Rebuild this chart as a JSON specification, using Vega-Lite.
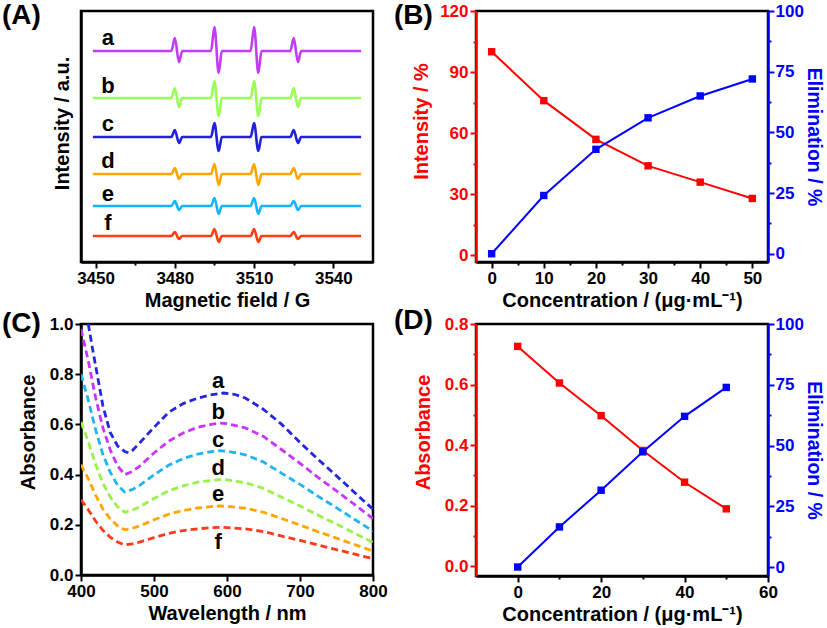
{
  "$schema": "https://vega.github.io/schema/vega-lite/v6.json",
  "background": "white",
  "padding": {"left": 0, "top": 0, "right": 0, "bottom": 0},
  "columns": 2,
  "spacing": {"row": 62, "column": 103},
  "bounds": "flush",
  "resolve": {"scale": {"color": "independent"}},
  "datasets": {
    "epr": [
      {"s":"a","x":3449,"y":211},{"s":"a","x":3478.7,"y":211},{"s":"a","x":3480,"y":224},{"s":"a","x":3481.6,"y":200},{"s":"a","x":3482.8,"y":211},
      {"s":"a","x":3493.7,"y":211},{"s":"a","x":3495,"y":235},{"s":"a","x":3496.6,"y":189},{"s":"a","x":3497.8,"y":211},
      {"s":"a","x":3508.7,"y":211},{"s":"a","x":3510,"y":235},{"s":"a","x":3511.6,"y":189},{"s":"a","x":3512.8,"y":211},
      {"s":"a","x":3523.7,"y":211},{"s":"a","x":3525,"y":224},{"s":"a","x":3526.6,"y":200},{"s":"a","x":3527.8,"y":211},{"s":"a","x":3550.5,"y":211},
      {"s":"b","x":3449,"y":164},{"s":"b","x":3478.7,"y":164},{"s":"b","x":3480,"y":174},{"s":"b","x":3481.6,"y":155},{"s":"b","x":3482.8,"y":164},
      {"s":"b","x":3493.7,"y":164},{"s":"b","x":3495,"y":181},{"s":"b","x":3496.6,"y":146},{"s":"b","x":3497.8,"y":164},
      {"s":"b","x":3508.7,"y":164},{"s":"b","x":3510,"y":181},{"s":"b","x":3511.6,"y":146},{"s":"b","x":3512.8,"y":164},
      {"s":"b","x":3523.7,"y":164},{"s":"b","x":3525,"y":174},{"s":"b","x":3526.6,"y":155},{"s":"b","x":3527.8,"y":164},{"s":"b","x":3550.5,"y":164},
      {"s":"c","x":3449,"y":125},{"s":"c","x":3478.7,"y":125},{"s":"c","x":3480,"y":132},{"s":"c","x":3481.6,"y":119},{"s":"c","x":3482.8,"y":125},
      {"s":"c","x":3493.7,"y":125},{"s":"c","x":3495,"y":139},{"s":"c","x":3496.6,"y":111},{"s":"c","x":3497.8,"y":125},
      {"s":"c","x":3508.7,"y":125},{"s":"c","x":3510,"y":139},{"s":"c","x":3511.6,"y":111},{"s":"c","x":3512.8,"y":125},
      {"s":"c","x":3523.7,"y":125},{"s":"c","x":3525,"y":132},{"s":"c","x":3526.6,"y":119},{"s":"c","x":3527.8,"y":125},{"s":"c","x":3550.5,"y":125},
      {"s":"d","x":3449,"y":88},{"s":"d","x":3478.7,"y":88},{"s":"d","x":3480,"y":94},{"s":"d","x":3481.6,"y":83},{"s":"d","x":3482.8,"y":88},
      {"s":"d","x":3493.7,"y":88},{"s":"d","x":3495,"y":98},{"s":"d","x":3496.6,"y":77},{"s":"d","x":3497.8,"y":88},
      {"s":"d","x":3508.7,"y":88},{"s":"d","x":3510,"y":98},{"s":"d","x":3511.6,"y":77},{"s":"d","x":3512.8,"y":88},
      {"s":"d","x":3523.7,"y":88},{"s":"d","x":3525,"y":94},{"s":"d","x":3526.6,"y":83},{"s":"d","x":3527.8,"y":88},{"s":"d","x":3550.5,"y":88},
      {"s":"e","x":3449,"y":56},{"s":"e","x":3478.7,"y":56},{"s":"e","x":3480,"y":61},{"s":"e","x":3481.6,"y":52},{"s":"e","x":3482.8,"y":56},
      {"s":"e","x":3493.7,"y":56},{"s":"e","x":3495,"y":64},{"s":"e","x":3496.6,"y":48},{"s":"e","x":3497.8,"y":56},
      {"s":"e","x":3508.7,"y":56},{"s":"e","x":3510,"y":64},{"s":"e","x":3511.6,"y":48},{"s":"e","x":3512.8,"y":56},
      {"s":"e","x":3523.7,"y":56},{"s":"e","x":3525,"y":61},{"s":"e","x":3526.6,"y":52},{"s":"e","x":3527.8,"y":56},{"s":"e","x":3550.5,"y":56},
      {"s":"f","x":3449,"y":26},{"s":"f","x":3478.7,"y":26},{"s":"f","x":3480,"y":30},{"s":"f","x":3481.6,"y":23},{"s":"f","x":3482.8,"y":26},
      {"s":"f","x":3493.7,"y":26},{"s":"f","x":3495,"y":33},{"s":"f","x":3496.6,"y":20},{"s":"f","x":3497.8,"y":26},
      {"s":"f","x":3508.7,"y":26},{"s":"f","x":3510,"y":33},{"s":"f","x":3511.6,"y":20},{"s":"f","x":3512.8,"y":26},
      {"s":"f","x":3523.7,"y":26},{"s":"f","x":3525,"y":30},{"s":"f","x":3526.6,"y":23},{"s":"f","x":3527.8,"y":26},{"s":"f","x":3550.5,"y":26}
    ],
    "eprlab": [
      {"s":"a","x":3454.7,"y":217},{"s":"b","x":3454.7,"y":168.7},{"s":"c","x":3454.7,"y":131},
      {"s":"d","x":3454.7,"y":93.7},{"s":"e","x":3454.7,"y":61.3},{"s":"f","x":3454.7,"y":32}
    ],
    "epsq": [
      {"c":0,"intensity":100,"elim":0},{"c":10,"intensity":76,"elim":24},{"c":20,"intensity":57,"elim":43},
      {"c":30,"intensity":44,"elim":56},{"c":40,"intensity":36,"elim":65},{"c":50,"intensity":28,"elim":72}
    ],
    "uv": [
      {"s":"a","w":410,"v":1.0},{"s":"a","w":415,"v":0.915},{"s":"a","w":420,"v":0.834},{"s":"a","w":430,"v":0.674},{"s":"a","w":440,"v":0.568},{"s":"a","w":450,"v":0.515},{"s":"a","w":460,"v":0.492},{"s":"a","w":465,"v":0.487},{"s":"a","w":470,"v":0.495},{"s":"a","w":480,"v":0.525},{"s":"a","w":490,"v":0.557},{"s":"a","w":500,"v":0.588},{"s":"a","w":520,"v":0.648},{"s":"a","w":540,"v":0.683},{"s":"a","w":560,"v":0.705},{"s":"a","w":580,"v":0.719},{"s":"a","w":595,"v":0.725},{"s":"a","w":610,"v":0.72},{"s":"a","w":625,"v":0.705},{"s":"a","w":650,"v":0.66},{"s":"a","w":675,"v":0.6},{"s":"a","w":700,"v":0.528},{"s":"a","w":725,"v":0.46},{"s":"a","w":750,"v":0.395},{"s":"a","w":775,"v":0.328},{"s":"a","w":800,"v":0.262},
      {"s":"b","w":400,"v":0.98},{"s":"b","w":410,"v":0.852},{"s":"b","w":420,"v":0.707},{"s":"b","w":430,"v":0.586},{"s":"b","w":440,"v":0.499},{"s":"b","w":450,"v":0.435},{"s":"b","w":460,"v":0.4},{"s":"b","w":470,"v":0.412},{"s":"b","w":480,"v":0.433},{"s":"b","w":500,"v":0.486},{"s":"b","w":520,"v":0.533},{"s":"b","w":540,"v":0.566},{"s":"b","w":560,"v":0.589},{"s":"b","w":580,"v":0.601},{"s":"b","w":590,"v":0.605},{"s":"b","w":600,"v":0.603},{"s":"b","w":625,"v":0.586},{"s":"b","w":650,"v":0.552},{"s":"b","w":675,"v":0.499},{"s":"b","w":700,"v":0.445},{"s":"b","w":725,"v":0.388},{"s":"b","w":750,"v":0.335},{"s":"b","w":775,"v":0.28},{"s":"b","w":800,"v":0.225},
      {"s":"c","w":400,"v":0.8},{"s":"c","w":410,"v":0.697},{"s":"c","w":420,"v":0.579},{"s":"c","w":430,"v":0.48},{"s":"c","w":440,"v":0.41},{"s":"c","w":450,"v":0.358},{"s":"c","w":460,"v":0.33},{"s":"c","w":470,"v":0.34},{"s":"c","w":480,"v":0.356},{"s":"c","w":500,"v":0.399},{"s":"c","w":520,"v":0.437},{"s":"c","w":540,"v":0.464},{"s":"c","w":560,"v":0.482},{"s":"c","w":580,"v":0.492},{"s":"c","w":590,"v":0.495},{"s":"c","w":600,"v":0.493},{"s":"c","w":625,"v":0.479},{"s":"c","w":650,"v":0.45},{"s":"c","w":675,"v":0.405},{"s":"c","w":700,"v":0.361},{"s":"c","w":725,"v":0.313},{"s":"c","w":750,"v":0.268},{"s":"c","w":775,"v":0.221},{"s":"c","w":800,"v":0.175},
      {"s":"d","w":400,"v":0.61},{"s":"d","w":410,"v":0.531},{"s":"d","w":420,"v":0.441},{"s":"d","w":430,"v":0.365},{"s":"d","w":440,"v":0.311},{"s":"d","w":450,"v":0.272},{"s":"d","w":460,"v":0.25},{"s":"d","w":470,"v":0.258},{"s":"d","w":480,"v":0.271},{"s":"d","w":500,"v":0.305},{"s":"d","w":520,"v":0.335},{"s":"d","w":540,"v":0.355},{"s":"d","w":560,"v":0.37},{"s":"d","w":580,"v":0.377},{"s":"d","w":590,"v":0.38},{"s":"d","w":600,"v":0.379},{"s":"d","w":625,"v":0.368},{"s":"d","w":650,"v":0.345},{"s":"d","w":675,"v":0.31},{"s":"d","w":700,"v":0.275},{"s":"d","w":725,"v":0.238},{"s":"d","w":750,"v":0.203},{"s":"d","w":775,"v":0.166},{"s":"d","w":800,"v":0.13},
      {"s":"e","w":400,"v":0.44},{"s":"e","w":410,"v":0.383},{"s":"e","w":420,"v":0.318},{"s":"e","w":430,"v":0.263},{"s":"e","w":440,"v":0.224},{"s":"e","w":450,"v":0.196},{"s":"e","w":460,"v":0.18},{"s":"e","w":470,"v":0.186},{"s":"e","w":480,"v":0.195},{"s":"e","w":500,"v":0.22},{"s":"e","w":520,"v":0.242},{"s":"e","w":540,"v":0.257},{"s":"e","w":560,"v":0.267},{"s":"e","w":580,"v":0.273},{"s":"e","w":590,"v":0.275},{"s":"e","w":600,"v":0.274},{"s":"e","w":625,"v":0.266},{"s":"e","w":650,"v":0.25},{"s":"e","w":675,"v":0.225},{"s":"e","w":700,"v":0.199},{"s":"e","w":725,"v":0.172},{"s":"e","w":750,"v":0.147},{"s":"e","w":775,"v":0.121},{"s":"e","w":800,"v":0.095},
      {"s":"f","w":400,"v":0.3},{"s":"f","w":410,"v":0.26},{"s":"f","w":420,"v":0.215},{"s":"f","w":430,"v":0.178},{"s":"f","w":440,"v":0.151},{"s":"f","w":450,"v":0.131},{"s":"f","w":460,"v":0.12},{"s":"f","w":470,"v":0.124},{"s":"f","w":480,"v":0.131},{"s":"f","w":500,"v":0.149},{"s":"f","w":520,"v":0.166},{"s":"f","w":540,"v":0.177},{"s":"f","w":560,"v":0.184},{"s":"f","w":580,"v":0.189},{"s":"f","w":590,"v":0.19},{"s":"f","w":600,"v":0.189},{"s":"f","w":625,"v":0.184},{"s":"f","w":650,"v":0.173},{"s":"f","w":675,"v":0.155},{"s":"f","w":700,"v":0.138},{"s":"f","w":725,"v":0.119},{"s":"f","w":750,"v":0.101},{"s":"f","w":775,"v":0.083},{"s":"f","w":800,"v":0.065}
    ],
    "uvlab": [
      {"s":"a","w":588,"v":0.744},{"s":"b","w":588,"v":0.621},{"s":"c","w":588,"v":0.511},
      {"s":"d","w":588,"v":0.399},{"s":"e","w":588,"v":0.295},{"s":"f","w":588,"v":0.1025}
    ],
    "uvsq": [
      {"c":0,"abs":0.726,"elim":0},{"c":10,"abs":0.605,"elim":16.5},{"c":20,"abs":0.497,"elim":31.6},
      {"c":30,"abs":0.382,"elim":47.4},{"c":40,"abs":0.277,"elim":62},{"c":50,"abs":0.189,"elim":73.9}
    ]
  },
  "concat": [
    {
      "width": 292, "height": 251,
      "title": {"text": "(A)", "dx": -79, "dy": 22.5},
      "layer": [
        {
          "data": {"name": "epr"},
          "mark": {"type": "line", "strokeWidth": 2.6, "clip": true, "interpolate": "monotone"},
          "encoding": {
            "x": {"field": "x", "type": "quantitative",
              "scale": {"domain": [3444.5, 3555], "nice": false, "zero": false},
              "axis": {"title": "Magnetic field / G", "values": [3450,3465,3480,3495,3510,3525,3540], "format": "d",
                "labelExpr": "datum.value % 30 === 0 ? datum.label : ''",
                "tickSize": {"condition": {"test": "datum.value % 30 !== 0", "value": 3}, "value": 6}}},
            "y": {"field": "y", "type": "quantitative",
              "scale": {"domain": [0, 251], "nice": false, "zero": false},
              "axis": {"title": "Intensity / a.u.", "labels": false, "ticks": false, "titleY": 112, "titlePadding": 9}},
            "color": {"field": "s", "type": "nominal", "legend": null,
              "scale": {"domain": ["a","b","c","d","e","f"], "range": ["#C43BF5","#99FF55","#2020DD","#FFA500","#11B5FF","#FF3D10"]}}
          }
        },
        {
          "data": {"name": "eprlab"},
          "mark": {"type": "text", "fontSize": 22, "fontWeight": "bold", "align": "center", "baseline": "alphabetic", "color": "#000"},
          "encoding": {
            "x": {"field": "x", "type": "quantitative"},
            "y": {"field": "y", "type": "quantitative"},
            "text": {"field": "s"}
          }
        }
      ]
    },
    {
      "width": 292, "height": 251,
      "title": {"text": "(B)", "dx": -82, "dy": 31.5},
      "data": {"name": "epsq"},
      "encoding": {
        "x": {"field": "c", "type": "quantitative",
          "scale": {"domain": [-3, 53], "nice": false, "zero": false},
          "axis": {"title": "Concentration / (μg·mL⁻¹)", "values": [0,5,10,15,20,25,30,35,40,45,50],
            "labelExpr": "datum.value % 10 === 0 ? datum.label : ''",
            "tickSize": {"condition": {"test": "datum.value % 10 !== 0", "value": 3}, "value": 6}}}
      },
      "layer": [
        {
          "mark": {"type": "line", "color": "#FF0000", "strokeWidth": 2, "point": {"shape": "square", "size": 55, "filled": true, "color": "#FF0000"}},
          "encoding": {
            "y": {"field": "intensity", "type": "quantitative",
              "scale": {"domain": [-3.2, 120], "nice": false, "zero": false},
              "axis": {"orient": "left", "title": "Intensity / %", "values": [0,15,30,45,60,75,90,105,120],
                "labelExpr": "datum.value % 30 === 0 ? datum.label : ''",
                "tickSize": {"condition": {"test": "datum.value % 30 !== 0", "value": 3}, "value": 6},
                "labelColor": "#FF0000", "titleColor": "#FF0000", "domainColor": "#FF0000", "tickColor": "#FF0000",
                "titleY": 110, "titlePadding": 8}}
          }
        },
        {
          "mark": {"type": "line", "color": "#0000FF", "strokeWidth": 2, "point": {"shape": "square", "size": 55, "filled": true, "color": "#0000FF"}},
          "encoding": {
            "y": {"field": "elim", "type": "quantitative",
              "scale": {"domain": [-3.4, 100], "nice": false, "zero": false},
              "axis": {"orient": "right", "title": "Elimination / %", "values": [0,12.5,25,37.5,50,62.5,75,87.5,100],
                "labelExpr": "datum.value % 25 === 0 ? datum.label : ''",
                "tickSize": {"condition": {"test": "datum.value % 25 !== 0", "value": 3}, "value": 6},
                "labelColor": "#0000FF", "titleColor": "#0000FF", "domainColor": "#0000FF", "tickColor": "#0000FF",
                "titleFontSize": 19.5, "titlePadding": 0, "labelPadding": 1}}
          }
        }
      ],
      "resolve": {"scale": {"y": "independent"}}
    },
    {
      "width": 292, "height": 251,
      "title": {"text": "(C)", "dx": -79, "dy": 26.5},
      "layer": [
        {
          "data": {"name": "uv"},
          "mark": {"type": "line", "strokeWidth": 2.8, "strokeDash": [7, 4], "clip": true},
          "encoding": {
            "x": {"field": "w", "type": "quantitative",
              "scale": {"domain": [400, 800], "nice": false, "zero": false},
              "axis": {"title": "Wavelength / nm", "values": [400,450,500,550,600,650,700,750,800], "format": "d",
                "labelExpr": "datum.value % 100 === 0 ? datum.label : ''",
                "tickSize": {"condition": {"test": "datum.value % 100 !== 0", "value": 3}, "value": 6}}},
            "y": {"field": "v", "type": "quantitative",
              "scale": {"domain": [0, 1], "nice": false, "zero": false},
              "axis": {"title": "Absorbance", "values": [0,0.1,0.2,0.3,0.4,0.5,0.6,0.7,0.8,0.9,1.0], "format": ".1f",
                "labelExpr": "round(datum.value*10) % 2 === 0 ? datum.label : ''",
                "tickSize": {"condition": {"test": "round(datum.value*10) % 2 !== 0", "value": 3}, "value": 6},
                "titleY": 108, "titlePadding": 11}},
            "color": {"field": "s", "type": "nominal", "legend": null,
              "scale": {"domain": ["a","b","c","d","e","f"], "range": ["#2626E0","#CC33FF","#22B4F0","#99F04A","#FFA500","#FF3A1A"]}}
          }
        },
        {
          "data": {"name": "uvlab"},
          "mark": {"type": "text", "fontSize": 22, "fontWeight": "bold", "align": "center", "baseline": "alphabetic", "color": "#000"},
          "encoding": {
            "x": {"field": "w", "type": "quantitative"},
            "y": {"field": "v", "type": "quantitative"},
            "text": {"field": "s"}
          }
        }
      ]
    },
    {
      "width": 292, "height": 252,
      "title": {"text": "(D)", "dx": -82, "dy": 23.5},
      "data": {"name": "uvsq"},
      "encoding": {
        "x": {"field": "c", "type": "quantitative",
          "scale": {"domain": [-10, 60], "nice": false, "zero": false},
          "axis": {"title": "Concentration / (μg·mL⁻¹)", "values": [0,10,20,30,40,50,60],
            "labelExpr": "datum.value % 20 === 0 ? datum.label : ''",
            "tickSize": {"condition": {"test": "datum.value % 20 !== 0", "value": 3}, "value": 6}}}
      },
      "layer": [
        {
          "mark": {"type": "line", "color": "#FF0000", "strokeWidth": 2, "point": {"shape": "square", "size": 55, "filled": true, "color": "#FF0000"}},
          "encoding": {
            "y": {"field": "abs", "type": "quantitative",
              "scale": {"domain": [-0.033, 0.8], "nice": false, "zero": false},
              "axis": {"orient": "left", "title": "Absorbance", "values": [0,0.1,0.2,0.3,0.4,0.5,0.6,0.7,0.8], "format": ".1f",
                "labelExpr": "round(datum.value*10) % 2 === 0 ? datum.label : ''",
                "tickSize": {"condition": {"test": "round(datum.value*10) % 2 !== 0", "value": 3}, "value": 6},
                "labelColor": "#FF0000", "titleColor": "#FF0000", "domainColor": "#FF0000", "tickColor": "#FF0000",
                "titleY": 108, "titlePadding": 11}}
          }
        },
        {
          "mark": {"type": "line", "color": "#0000FF", "strokeWidth": 2, "point": {"shape": "square", "size": 55, "filled": true, "color": "#0000FF"}},
          "encoding": {
            "y": {"field": "elim", "type": "quantitative",
              "scale": {"domain": [-3.7, 100], "nice": false, "zero": false},
              "axis": {"orient": "right", "title": "Elimination / %", "values": [0,12.5,25,37.5,50,62.5,75,87.5,100],
                "labelExpr": "datum.value % 25 === 0 ? datum.label : ''",
                "tickSize": {"condition": {"test": "datum.value % 25 !== 0", "value": 3}, "value": 6},
                "labelColor": "#0000FF", "titleColor": "#0000FF", "domainColor": "#0000FF", "tickColor": "#0000FF",
                "titleFontSize": 19.5, "titlePadding": 0, "labelPadding": 1}}
          }
        }
      ],
      "resolve": {"scale": {"y": "independent"}}
    }
  ],
  "config": {
    "font": "Liberation Sans",
    "view": {"stroke": "#000", "strokeWidth": 2.5},
    "axis": {
      "grid": false,
      "labelFont": "Liberation Sans", "labelFontSize": 17, "labelFontWeight": "bold", "labelColor": "#000",
      "titleFont": "Liberation Sans", "titleFontSize": 20, "titleFontWeight": "bold", "titleColor": "#000",
      "domainColor": "#000", "domainWidth": 2.5, "tickColor": "#000", "tickWidth": 2,
      "labelPadding": 2, "titlePadding": 4, "labelFlush": false, "labelOverlap": false, "labelBound": false
    },
    "title": {"font": "Liberation Sans", "fontSize": 28, "fontWeight": "bold", "anchor": "start", "frame": "group", "offset": 0, "baseline": "top", "color": "#000"}
  }
}
